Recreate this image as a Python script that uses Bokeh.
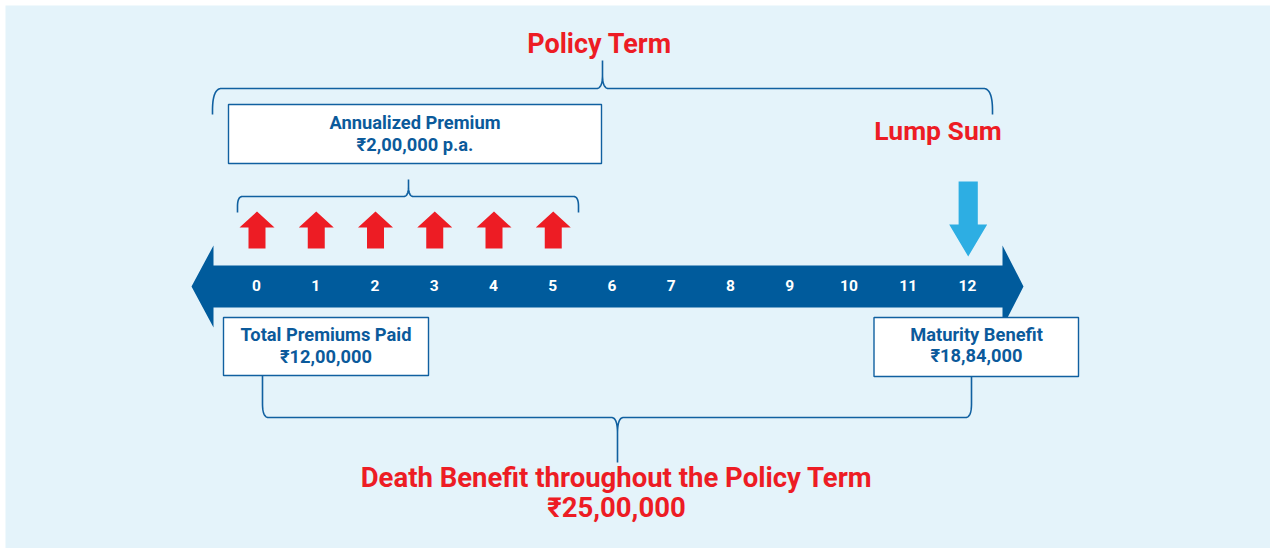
import numpy as np
from bokeh.plotting import figure
from bokeh.models import Range1d
from bokeh.core.properties import value
from bokeh.embed import file_html
from bokeh.resources import INLINE

# ---------------- data ----------------
years = list(range(13))
year_labels = [str(y) for y in years]
premium_years = [0, 1, 2, 3, 4, 5]
maturity_year = 12
policy_term_label = "Policy Term"
lump_sum_label = "Lump Sum"
premium_lines = ["Annualized Premium", "₹2,00,000 p.a."]
total_lines = ["Total Premiums Paid", "₹12,00,000"]
maturity_lines = ["Maturity Benefit", "₹18,84,000"]
death_lines = ["Death Benefit throughout the Policy Term", "₹25,00,000"]

# ---------------- style / layout ----------------
BG = "#E4F3FA"
BAND = "#005B9C"
TXT_BLUE = "#0B5A9B"
LINE_BLUE = "#1060A0"
RED = "#ED1C24"
LIGHT = "#2DAEE3"
FONT = value("Roboto")

W, H = 1270, 548
M = 5                                    # white margin top/left
YEAR0_PX, STEP = 256.0, 59.25          # pixel of year 0 and pixels per year
PX = 1.0 / STEP                          # one pixel in year units

def yr(px):
    return (px - YEAR0_PX) / STEP

p = figure(width=W, height=H, output_backend="svg", toolbar_location=None,
           x_range=Range1d(yr(M), yr(W)), y_range=Range1d(H, M),
           min_border=0, min_border_left=M, min_border_right=0,
           min_border_top=M, min_border_bottom=0)
p.axis.visible = False
p.grid.visible = False
p.outline_line_color = None
p.background_fill_color = BG
p.border_fill_color = "white"

# ---------------- timeline band ----------------
first, last = years[0], years[-1]
band_l = first - 43 * PX
band_r = last + 35 * PX
tip_l = first - 65 * PX
tip_r = last + 56 * PX
band_top, band_bot, head_top, head_bot, mid = 265, 307, 245, 327, 286
p.patch([tip_l, band_l, band_l, band_r, band_r, tip_r, band_r, band_r, band_l, band_l],
        [mid, head_top, band_top, band_top, head_top, mid, head_bot, band_bot, band_bot, head_bot],
        fill_color=BAND, line_color=None)
p.text(x=years, y=[284.5] * len(years), text=year_labels, text_font=FONT,
       text_font_style="bold", text_font_size="15.5px", text_color="white",
       text_align="center", text_baseline="alphabetic")

# ---------------- premium arrows (up, red) ----------------
xs, ys = [], []
for yv in premium_years:
    c = yv + 0.5 * PX
    hw, sw = 17.5 * PX, 8.5 * PX
    xs.append([c, c + hw, c + sw, c + sw, c - sw, c - sw, c - hw])
    ys.append([211, 227, 227, 248, 248, 227, 227])
p.patches(xs, ys, fill_color=RED, line_color=None)

# ---------------- lump sum arrow (down, light blue) ----------------
c = maturity_year + 0.7 * PX
hw, sw = 19 * PX, 9.6 * PX
p.patch([c - sw, c + sw, c + sw, c + hw, c, c - hw, c - sw],
        [181, 181, 224, 224, 256, 224, 224], fill_color=LIGHT, line_color=None)

# ---------------- braces ----------------
def qbez(p0, p1, p2, n=20):
    t = np.linspace(0, 1, n)
    x = (1 - t) ** 2 * p0[0] + 2 * (1 - t) * t * p1[0] + t ** 2 * p2[0]
    y = (1 - t) ** 2 * p0[1] + 2 * (1 - t) * t * p1[1] + t ** 2 * p2[1]
    return list(x), list(y)

def brace(xl, xr, xc, y_end, y_bar, y_tip, end_rx, end_ry, cusp_rx, cusp_ry):
    sgn_end = 1 if y_end > y_bar else -1
    sgn_tip = 1 if y_tip > y_bar else -1
    X, Y = [], []
    X += [xl]; Y += [y_end]
    bx, by = qbez((xl, y_bar + sgn_end * end_ry), (xl, y_bar), (xl + end_rx, y_bar))
    X += bx; Y += by
    bx, by = qbez((xc - cusp_rx, y_bar), (xc, y_bar), (xc, y_bar + sgn_tip * cusp_ry))
    X += bx; Y += by
    X += [xc]; Y += [y_tip]
    bx, by = qbez((xc, y_bar + sgn_tip * cusp_ry), (xc, y_bar), (xc + cusp_rx, y_bar))
    X += bx; Y += by
    bx, by = qbez((xr - end_rx, y_bar), (xr, y_bar), (xr, y_bar + sgn_end * end_ry))
    X += bx; Y += by
    X += [xr]; Y += [y_end]
    return X, Y

# policy term brace (top)
bx, by = brace(yr(212), yr(992), yr(602), 114, 88, 60, 9 * PX, 22, 6 * PX, 14)
p.line(bx, by, line_color=LINE_BLUE, line_width=1.6)
# premium paying brace
bx, by = brace(yr(237), yr(578), yr(408), 212, 196, 179, 5 * PX, 10, 5 * PX, 10)
p.line(bx, by, line_color=LINE_BLUE, line_width=1.6)
# death benefit brace (bottom)
bx, by = brace(yr(262), yr(971), yr(617), 375, 417, 462, 6 * PX, 14, 6 * PX, 16)
p.line(bx, by, line_color=LINE_BLUE, line_width=1.6)

# ---------------- boxes ----------------
p.quad(left=[yr(228), yr(223), yr(873.5)], right=[yr(601), yr(428), yr(1078)],
       top=[104, 317, 317], bottom=[163, 375, 376],
       fill_color="white", line_color=LINE_BLUE, line_width=1.4)

def two_lines(xc, y1, y2, lines, size, color):
    p.text(x=[xc, xc], y=[y1, y2], text=lines, text_font=FONT,
           text_font_style="bold", text_font_size=size, text_color=color,
           text_align="center", text_baseline="alphabetic")

two_lines(yr(414.5), 121.5, 143.5, premium_lines, "18.3px", TXT_BLUE)
two_lines(yr(325.5), 333.5, 355.5, total_lines, "18.3px", TXT_BLUE)
two_lines(yr(976), 333.5, 354.5, maturity_lines, "18.3px", TXT_BLUE)

# ---------------- red titles ----------------
p.text(x=[yr(599)], y=[43], text=[policy_term_label], text_font=FONT,
       text_font_style="bold", text_font_size="27px", text_color=RED,
       text_align="center", text_baseline="alphabetic")
p.text(x=[yr(937.5)], y=[129.5], text=[lump_sum_label], text_font=FONT,
       text_font_style="bold", text_font_size="26.5px", text_color=RED,
       text_align="center", text_baseline="alphabetic")
two_lines(yr(616), 476.5, 507, death_lines, "27.5px", RED)

open("out.html", "w").write(file_html(p, INLINE))
